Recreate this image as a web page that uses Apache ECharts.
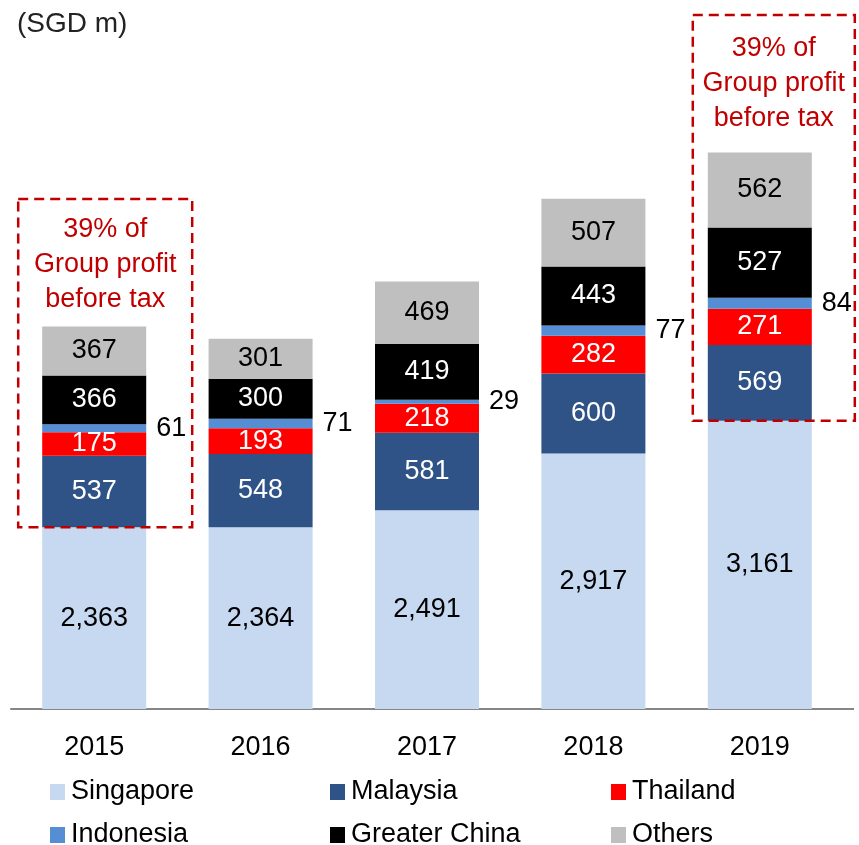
<!DOCTYPE html>
<html>
<head>
<meta charset="utf-8">
<script src="https://cdn.jsdelivr.net/npm/echarts@6/dist/echarts.min.js"></script>
<style>
html,body{margin:0;padding:0;background:#fff;}
#main{width:859px;height:845px;}
</style>
</head>
<body>
<div id="main"></div>
<script>
var years = ['2015', '2016', '2017', '2018', '2019'];
var singapore = [2363, 2364, 2491, 2917, 3161];
var malaysia = [537, 548, 581, 600, 569];
var thailand = [175, 193, 218, 282, 271];
var indonesia = [61, 71, 29, 77, 84];
var greaterChina = [366, 300, 419, 443, 527];
var others = [367, 301, 469, 507, 562];

var FONT = 'Liberation Sans';
var FS = 27;
var RED = '#C00000';

function fmt(p){
    return p.value.toLocaleString('en-US');
}

function makeSeries(name, data, color, labelColor, outside){
    return {
        name: name,
        type: 'bar',
        stack: 'total',
        barWidth: 104,
        data: data,
        itemStyle: { color: color },
        label: {
            show: true,
            position: outside ? 'right' : 'inside',
            distance: 10,
            color: labelColor,
            fontFamily: FONT,
            fontSize: FS,
            formatter: fmt
        }
    };
}

// one legend per item so the columns line up like the original
function legendItem(name, left, centerY){
    return {
        left: left,
        top: centerY - 15,
        padding: 0,
        itemWidth: 15,
        itemHeight: 16,
        itemGap: 0,
        icon: 'rect',
        data: [name],
        textStyle: { fontFamily: FONT, fontSize: FS, lineHeight: 30, color: '#000', padding: [0, 0, 0, 1] }
    };
}

var chart = echarts.init(document.getElementById('main'));

var option = {
    animation: false,
    backgroundColor: '#fff',
    textStyle: { fontFamily: FONT },
    title: {
        text: '(SGD m)',
        left: 12,
        top: 5,
        textStyle: { fontFamily: FONT, fontSize: 28, fontWeight: 'normal', color: '#222' }
    },
    legend: [
        legendItem('Singapore', 50, 792),
        legendItem('Malaysia', 330, 792),
        legendItem('Thailand', 611, 792),
        legendItem('Indonesia', 50, 835),
        legendItem('Greater China', 330, 835),
        legendItem('Others', 611, 835)
    ],
    grid: {
        left: 11,
        right: 16,
        top: 109,
        bottom: 136,
        containLabel: false
    },
    xAxis: {
        type: 'category',
        data: years,
        axisLine: { lineStyle: { color: '#868686', width: 2 } },
        axisTick: { show: false },
        axisLabel: { fontFamily: FONT, fontSize: FS, color: '#000', margin: 25 }
    },
    yAxis: {
        type: 'value',
        min: 1000,
        max: 5500,
        show: false,
        splitLine: { show: false }
    },
    series: [
        makeSeries('Singapore', singapore, '#C6D9F1', '#000', false),
        makeSeries('Malaysia', malaysia, '#2F5387', '#fff', false),
        makeSeries('Thailand', thailand, '#FF0000', '#fff', false),
        makeSeries('Indonesia', indonesia, '#558ED5', '#000', true),
        makeSeries('Greater China', greaterChina, '#000000', '#fff', false),
        makeSeries('Others', others, '#BFBFBF', '#000', false)
    ]
};
chart.setOption(option);

// dashed callout boxes, bottom anchored to the top of the Singapore segment
function callout(idx, leftOff, rightOff, top, textOff){
    var p = chart.convertToPixel({ gridIndex: 0 }, [idx, singapore[idx]]);
    var x1 = p[0] + leftOff, x2 = p[0] + rightOff;
    return [
        {
            type: 'rect',
            shape: { x: x1, y: top, width: x2 - x1, height: p[1] - top },
            style: { fill: null, stroke: RED, lineWidth: 2.5, lineDash: [10, 6] },
            z: 10
        },
        {
            type: 'text',
            x: (x1 + x2) / 2,
            y: top + textOff,
            style: {
                text: '39% of\nGroup profit\nbefore tax',
                fill: RED,
                font: FS + 'px "' + FONT + '"',
                lineHeight: 35,
                align: 'center',
                verticalAlign: 'top'
            },
            z: 10
        }
    ];
}

// the axis line in the original runs a little past the last category band
var end = chart.convertToPixel({ gridIndex: 0 }, [4, 1000]);
chart.setOption({
    graphic: callout(0, -76, 98, 199, 13).concat(callout(4, -67, 95, 15, 16)).concat([{
        type: 'line',
        shape: { x1: end[0] + 80, y1: end[1], x2: 854, y2: end[1] },
        style: { stroke: '#868686', lineWidth: 2 }
    }])
});
</script>
</body>
</html>
